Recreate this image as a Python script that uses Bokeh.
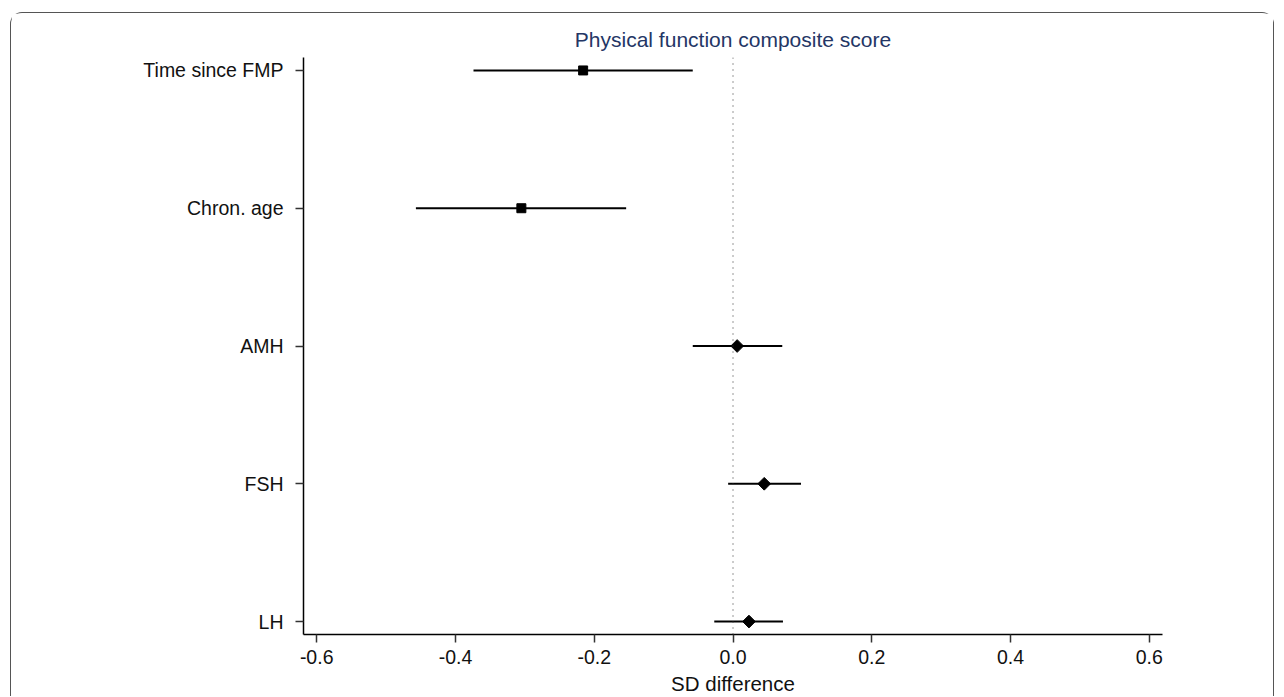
import numpy as np
from bokeh.plotting import figure
from bokeh.models import Span, FixedTicker, ColumnDataSource, Range1d
from bokeh.embed import file_html
from bokeh.resources import INLINE

# Data (top to bottom)
categories = ["Time since FMP", "Chron. age", "AMH", "FSH", "LH"]
estimate = [-0.216, -0.305, 0.006, 0.045, 0.023]
ci_low = [-0.374, -0.457, -0.058, -0.007, -0.027]
ci_high = [-0.058, -0.154, 0.071, 0.098, 0.072]
marker_kind = ["square", "square", "diamond", "diamond", "diamond"]
x_ticks = [-0.6, -0.4, -0.2, 0.0, 0.2, 0.4, 0.6]

n = len(categories)
ypos = [n - 1 - i for i in range(n)]

FONT = "Liberation Sans"

p = figure(width=1264, height=684, output_backend="svg", toolbar_location=None,
           x_range=Range1d(-0.619, 0.619), y_range=Range1d(-0.094, n - 1 + 0.094),
           min_border_left=292, min_border_right=113, min_border_top=44, min_border_bottom=63,
           title="Physical function composite score")

p.styles = {"margin-left": "10px", "margin-top": "12px",
            "border": "1px solid #555555", "border-bottom": "none",
            "border-radius": "12px 12px 0 0"}

p.outline_line_color = None
p.xgrid.grid_line_color = None
p.ygrid.grid_line_color = None

p.title.align = "center"
p.title.text_font = FONT
p.title.text_font_size = "21px"
p.title.text_font_style = "normal"
p.title.text_color = "#243665"
p.title.standoff = 14

# zero reference line
p.add_layout(Span(location=0, dimension="height", line_color="#333333",
                  line_width=1, line_dash="1 5"))

src = ColumnDataSource(dict(y=ypos, est=estimate, lo=ci_low, hi=ci_high, m=marker_kind))
p.segment(x0="lo", x1="hi", y0="y", y1="y", source=src, line_color="black", line_width=2)

sq = ColumnDataSource(dict(y=[ypos[i] for i in range(n) if marker_kind[i] == "square"],
                           x=[estimate[i] for i in range(n) if marker_kind[i] == "square"]))
dm = ColumnDataSource(dict(y=[ypos[i] for i in range(n) if marker_kind[i] == "diamond"],
                           x=[estimate[i] for i in range(n) if marker_kind[i] == "diamond"]))
p.scatter("x", "y", source=sq, marker="square", size=9, fill_color="black", line_color="black")
p.scatter("x", "y", source=dm, marker="square", angle=np.pi / 4, size=9,
          fill_color="black", line_color="black")

# axes
p.xaxis.ticker = FixedTicker(ticks=x_ticks)
p.xaxis.major_label_overrides = {t: f"{t:.1f}" for t in x_ticks}
p.xaxis.axis_label = "SD difference"
p.yaxis.ticker = FixedTicker(ticks=ypos)
p.yaxis.major_label_overrides = {ypos[i]: categories[i] for i in range(n)}

for ax in (p.xaxis[0], p.yaxis[0]):
    ax.axis_line_color = "black"
    ax.axis_line_width = 1.5
    ax.major_tick_line_color = "#333333"
    ax.major_tick_line_width = 1.5
    ax.major_tick_out = 8
    ax.major_tick_in = 0
    ax.minor_tick_line_color = None
    ax.major_label_text_font = FONT
    ax.major_label_text_font_size = "19.5px"
    ax.major_label_text_color = "#111111"
    ax.axis_label_text_font = FONT
    ax.axis_label_text_font_size = "20.5px"
    ax.axis_label_text_font_style = "normal"
    ax.axis_label_text_color = "#111111"

p.xaxis.major_label_standoff = 7
p.xaxis.axis_label_standoff = 5
p.yaxis.major_label_standoff = 12

open("out.html", "w").write(file_html(p, INLINE))
